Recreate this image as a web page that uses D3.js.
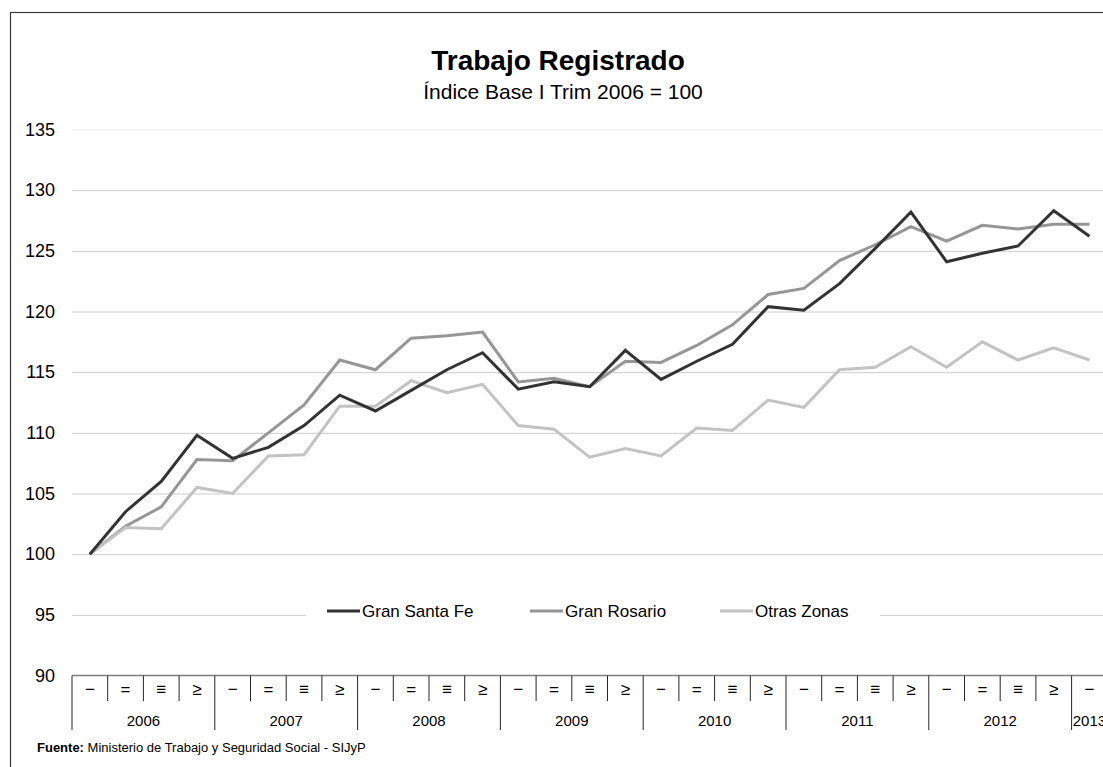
<!DOCTYPE html>
<html lang="es">
<head>
    <meta charset="UTF-8">
    <title>D3 - Trabajo Registrado</title>
    <script src="https://cdn.jsdelivr.net/npm/d3@7"></script>
    <style>
        body{
            margin: 0;
            background: white;
        }
        svg{
            display: block;
            font-family: "Liberation Sans", Arial, sans-serif;
        }
    </style>
</head>
<body>
<svg></svg>
<script>
    // chart values
    const years = ["2006", "2007", "2008", "2009", "2010", "2011", "2012", "2013"];
    const quarterLabels = ["\u2212", "=", "\u2261", "\u2265"]; // I, II, III, IV as printed
    const seriesNames = ["Gran Santa Fe", "Gran Rosario", "Otras Zonas"];
    const granSantaFe = [100, 103.5, 106.0, 109.8, 107.9, 108.8, 110.6, 113.1, 111.8, 113.5,
        115.2, 116.6, 113.6, 114.2, 113.8, 116.8, 114.4, 115.9, 117.3, 120.4,
        120.1, 122.3, 125.2, 128.2, 124.1, 124.8, 125.4, 128.3, 126.2];
    const granRosario = [100, 102.3, 103.9, 107.8, 107.7, 110.0, 112.3, 116.0, 115.2, 117.8,
        118.0, 118.3, 114.2, 114.5, 113.8, 115.9, 115.8, 117.2, 118.9, 121.4,
        121.9, 124.2, 125.5, 127.0, 125.8, 127.1, 126.8, 127.2, 127.2];
    const otrasZonas = [100, 102.2, 102.1, 105.5, 105.0, 108.1, 108.2, 112.2, 112.2, 114.3,
        113.3, 114.0, 110.6, 110.3, 108.0, 108.7, 108.1, 110.4, 110.2, 112.7,
        112.1, 115.2, 115.4, 117.1, 115.4, 117.5, 116.0, 117.0, 116.0];
    const yTicks = [90, 95, 100, 105, 110, 115, 120, 125, 130, 135];

    const seriesValues = [granSantaFe, granRosario, otrasZonas];
    const seriesColors = ["#333333", "#969696", "#c3c3c3"];

    const width = 1103;
    const height = 767;

    const svg = d3.select("svg")
        .attr("width", width)
        .attr("height", height);

    // outer frame of the chart (runs off the right / bottom edges)
    svg.append("rect")
        .attr("x", 10.5).attr("y", 12.5)
        .attr("width", 1200).attr("height", 800)
        .attr("fill", "white")
        .attr("stroke", "#3a3a3a")
        .attr("stroke-width", 1.2);

    // one band per quarter, 2006-I to 2013-I
    const quarters = d3.range(granSantaFe.length);
    const x = d3.scaleBand()
        .domain(quarters)
        .range([72, 72 + 35.7 * quarters.length]);
    const y = d3.scaleLinear()
        .domain([90, 135])
        .range([675.5, 129.5]);

    // titles
    svg.append("text")
        .attr("x", 558).attr("y", 70)
        .attr("text-anchor", "middle")
        .attr("font-size", 28)
        .attr("font-weight", "bold")
        .text("Trabajo Registrado");
    svg.append("text")
        .attr("x", 563).attr("y", 99)
        .attr("text-anchor", "middle")
        .attr("font-size", 21)
        .text("Índice Base I Trim 2006 = 100");

    // horizontal gridlines + y labels
    const yAxis = svg.append("g")
        .attr("transform", "translate(72,0)")
        .call(d3.axisLeft(y).tickValues(yTicks).tickSize(-(width - 72)).tickPadding(17));
    yAxis.select(".domain").remove();
    yAxis.selectAll(".tick line")
        .attr("stroke", d => d === 135 ? "#ececec" : "#cccccc")
        .attr("stroke-opacity", d => d === 90 ? 0 : 1);
    yAxis.selectAll(".tick text")
        .attr("font-size", 18)
        .attr("font-family", "Liberation Sans, Arial, sans-serif")
        .attr("fill", "#000");

    // lines
    const line = d3.line()
        .x((d, i) => x(i) + x.bandwidth() / 2)
        .y(d => y(d));
    const lines = svg.append("g");
    lines.selectAll("path")
        .data(seriesValues)
        .join("path")
        .attr("d", d => line(d))
        .attr("fill", "none")
        .attr("stroke", (d, i) => seriesColors[i])
        .attr("stroke-width", 3)
        .attr("stroke-linejoin", "miter");
    // dark series on top, as in the original
    lines.selectAll("path").filter((d, i) => i === 0).raise();

    // legend with white box covering the 95 gridline
    const legend = svg.append("g");
    legend.append("rect")
        .attr("x", 306).attr("y", 598)
        .attr("width", 574).attr("height", 26)
        .attr("fill", "white");
    const legendX = [327, 530, 720];
    const items = legend.selectAll("g.item")
        .data(seriesNames)
        .join("g")
        .attr("class", "item")
        .attr("transform", (d, i) => `translate(${legendX[i]},611)`);
    items.append("line")
        .attr("x1", 0).attr("x2", 33)
        .attr("stroke", (d, i) => seriesColors[i])
        .attr("stroke-width", 3);
    items.append("text")
        .attr("x", 35).attr("dy", "0.35em")
        .attr("font-size", 17)
        .text(d => d);

    // category axis: quarter row and year row
    const axisY = y(90);
    svg.append("line")
        .attr("x1", 72).attr("x2", width)
        .attr("y1", axisY).attr("y2", axisY)
        .attr("stroke", "#7f7f7f")
        .attr("stroke-width", 1.5);
    svg.append("g")
        .selectAll("line")
        .data(d3.range(quarters.length + 1))
        .join("line")
        .attr("x1", i => i < quarters.length ? x(i) : x(quarters.length - 1) + x.bandwidth())
        .attr("x2", i => i < quarters.length ? x(i) : x(quarters.length - 1) + x.bandwidth())
        .attr("y1", axisY)
        .attr("y2", i => i % 4 === 0 ? 730 : 701)
        .attr("stroke", "#262626")
        .attr("stroke-width", 1);
    svg.append("g")
        .selectAll("text")
        .data(quarters)
        .join("text")
        .attr("x", i => x(i) + x.bandwidth() / 2)
        .attr("y", 689)
        .attr("dy", "0.35em")
        .attr("text-anchor", "middle")
        .attr("font-size", 17)
        .text(i => quarterLabels[i % 4]);
    svg.append("g")
        .selectAll("text")
        .data(years)
        .join("text")
        .attr("x", (d, i) => {
            const first = x(i * 4);
            const last = Math.min(i * 4 + 3, quarters.length - 1);
            return (first + x(last) + x.bandwidth()) / 2;
        })
        .attr("y", 721)
        .attr("dy", "0.35em")
        .attr("text-anchor", "middle")
        .attr("font-size", 15)
        .text(d => d);

    // source note
    const note = svg.append("text")
        .attr("x", 37).attr("y", 752)
        .attr("font-size", 13);
    note.append("tspan").attr("font-weight", "bold").text("Fuente:");
    note.append("tspan").text(" Ministerio de Trabajo y Seguridad Social - SIJyP");
</script>
</body>
</html>
